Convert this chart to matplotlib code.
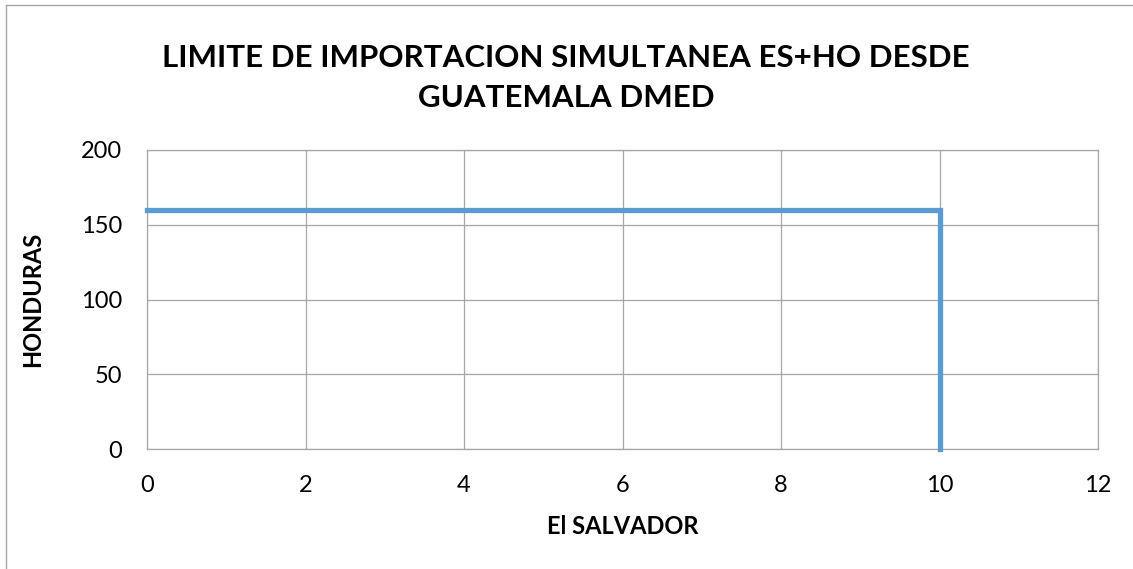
import matplotlib
matplotlib.use("Agg")
import matplotlib.pyplot as plt
from matplotlib.lines import Line2D

plt.rcParams['font.family'] = ['Lato', 'DejaVu Sans']

# Datos del limite
el_salvador = [0, 10, 10]
honduras = [160, 160, 0]

x_ticks = [0, 2, 4, 6, 8, 10, 12]
y_ticks = [0, 50, 100, 150, 200]

titulo = "LIMITE DE IMPORTACION SIMULTANEA ES+HO DESDE\nGUATEMALA DMED"

fig = plt.figure(figsize=(11.33, 5.69), dpi=100)
ax = fig.add_axes([147 / 1133, 1 - 449 / 569, (1098 - 147) / 1133, (449 - 150) / 569])

ax.plot(el_salvador, honduras, color='#5B9BD5', linewidth=3.8,
        solid_joinstyle='miter', zorder=3, clip_on=False)

ax.set_xlim(0, 12)
ax.set_ylim(0, 200)
ax.set_xticks(x_ticks)
ax.set_yticks(y_ticks)
ax.grid(True, color='#A6A6A6', linewidth=0.9)
for s in ax.spines.values():
    s.set_color('#A6A6A6')
    s.set_linewidth(0.9)
ax.tick_params(length=0, labelsize=17)
ax.tick_params(axis='x', pad=19)
ax.tick_params(axis='y', pad=18)

ax.set_xlabel("El SALVADOR", fontsize=17, weight='bold', va='center')
ax.set_ylabel("HONDURAS", fontsize=17, weight='bold', va='center')
ax.xaxis.set_label_coords(0.5, (449 - 526) / 299)
ax.yaxis.set_label_coords((33 - 147) / 951, 0.5)

fig.text(566 / 1133, 1 - 78 / 569, titulo, ha='center', va='center',
         fontsize=22.5, weight='bold', linespacing=1.52)

# borde del area del grafico (recortado a la derecha y abajo)
fig.add_artist(Line2D([6 / 1133, 6 / 1133], [0, 1 - 5 / 569],
                      transform=fig.transFigure, color='#A6A6A6', linewidth=1))
fig.add_artist(Line2D([6 / 1133, 1], [1 - 5 / 569, 1 - 5 / 569],
                      transform=fig.transFigure, color='#A6A6A6', linewidth=1))

fig.savefig("out.png", dpi=100)
